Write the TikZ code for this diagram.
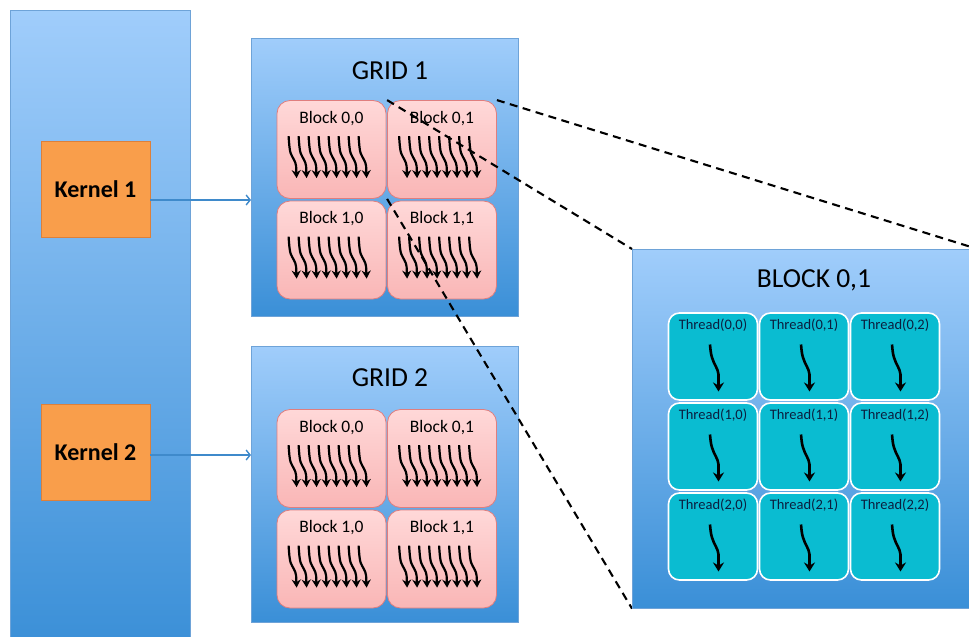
\documentclass[tikz,border=0pt]{standalone}
\usepackage{fontspec}
\setmainfont{Carlito}
\usetikzlibrary{arrows.meta,calc}

\definecolor{panelTop}{HTML}{A0CDFB}
\definecolor{panelBot}{HTML}{3A8FD7}
\definecolor{panelEdge}{HTML}{6EA3D8}
\definecolor{kernelFill}{HTML}{F99E4B}
\definecolor{kernelEdge}{HTML}{DD803A}
\definecolor{blockTop}{HTML}{FFD8D8}
\definecolor{blockBot}{HTML}{F9B6B6}
\definecolor{blockEdge}{HTML}{E07E7E}
\definecolor{threadFill}{HTML}{0ABCD1}
\definecolor{threadText}{HTML}{0B1F3F}
\definecolor{launch}{HTML}{3F8ACB}

\tikzset{
  panel/.style={draw=panelEdge, line width=0.6pt, top color=panelTop,
    bottom color=panelBot, inner sep=0pt, anchor=north west},
  kernelbox/.style={draw=kernelEdge, line width=0.6pt, fill=kernelFill,
    minimum width=109pt, minimum height=96pt, inner sep=0pt,
    font=\fontsize{24}{28}\selectfont\bfseries},
  paneltitle/.style={font=\fontsize{27.5}{31}\selectfont, inner sep=0pt},
  blockbox/.style={draw=blockEdge, line width=0.8pt, top color=blockTop,
    bottom color=blockBot, rounded corners=13pt,
    minimum width=109pt, minimum height=98pt, inner sep=0pt},
  blocklabel/.style={font=\fontsize{17.5}{20}\selectfont, inner sep=0pt, anchor=north},
  threadbox/.style={draw=white, line width=1.6pt, fill=threadFill,
    rounded corners=11pt, minimum width=89pt, minimum height=87pt, inner sep=0pt},
  threadlabel/.style={font=\fontsize{14.5}{17}\selectfont, text=threadText,
    inner sep=0pt, anchor=north},
  launcharrow/.style={draw=launch, line width=1.4pt,
    -{Straight Barb[length=4pt,width=10pt,line width=1.4pt]}},
  zoomline/.style={draw=black, line width=2.1pt, dash pattern=on 8pt off 5.5pt},
  warp/.pic={
    \draw[line width=2.2pt, -{Stealth[length=8pt,width=9pt,inset=2.5pt]}]
      (0,0) .. controls (0.5,8) and (1,14) .. (2,17)
            .. controls (4,22) and (7,25) .. (7.5,30)
            -- (8,42);
  },
  onethread/.pic={
    \draw[line width=2.6pt, -{Stealth[length=9pt,width=11pt,inset=3pt]}]
      (0,0) .. controls (0.5,6) and (1,10) .. (2,13)
            .. controls (4,20) and (8,24) .. (8.5,30)
            -- (8.5,47);
  }
}

\begin{document}
\begin{tikzpicture}[x=1pt,y=-1pt]
\useasboundingbox (0,0) rectangle (969,637);
\clip (0,0) rectangle (969,637);

% host side: the program with its two kernel launches
\node[panel, minimum width=180pt, minimum height=640pt] (host) at (10,10) {};
\node[kernelbox] (k1) at (95.5,189) {Kernel 1};
\node[kernelbox] (k2) at (95.5,452.5) {Kernel 2};

% device side: the two grids
\node[panel, minimum width=267pt, minimum height=278pt] (g1) at (251,38) {};
\node[panel, minimum width=267pt, minimum height=276pt] (g2) at (251,346) {};
\node[paneltitle] (g1title) at (390,71) {GRID 1};
\node[paneltitle] (g2title) at (390,378) {GRID 2};

% blocks of each grid, each with its warps of threads
\foreach \g/\ya/\yb in {1/149.5/250, 2/458.5/559}{
  \foreach \r/\yc in {0/\ya, 1/\yb}{
    \foreach \c/\xc in {0/331.5, 1/442}{
      \node[blockbox] (g\g b\r\c) at (\xc,\yc) {};
      \node[blocklabel] (g\g l\r\c) at ($(g\g b\r\c.north)+(0,11)$) {Block \r,\c};
      \foreach \i in {0,...,7}{
        \pic at ($(g\g b\r\c.north west)+(12+10*\i,36)$) {warp};
      }
    }
  }
}

% launch connectors
\draw[launcharrow] (k1.east |- 0,200) -- (g1.west |- 0,200);
\draw[launcharrow] (k2.east |- 0,455) -- (g2.west |- 0,455);

% enlarged view of block 0,1
\node[panel, minimum width=345pt, minimum height=359pt] (bz) at (632,249) {};
\coordinate (bzNW) at (bz.north west);
\coordinate (bzNE) at (bz.north east);
\coordinate (bzSW) at (bz.south west);

\draw[zoomline] (g1b01.north west) -- (bzNW);
\draw[zoomline] (g1b01.north east) -- (bzNE);
\draw[zoomline] (g1b01.south west) -- (bzSW);

\node[panel, minimum width=345pt, minimum height=359pt] (bzcover) at (632,249) {};
\node[paneltitle] (bztitle) at (814,280) {BLOCK 0,1};

\foreach \r/\yc in {0/356.5, 1/446.5, 2/536.5}{
  \foreach \c/\xc in {0/713, 1/804, 2/895}{
    \node[threadbox] (t\r\c) at (\xc,\yc) {};
    \node[threadlabel] (tl\r\c) at ($(t\r\c.north)+(0,6)$) {Thread(\r,\c)};
    \pic at ($(t\r\c.center)+(-3,-12)$) {onethread};
  }
}
\end{tikzpicture}
\end{document}
